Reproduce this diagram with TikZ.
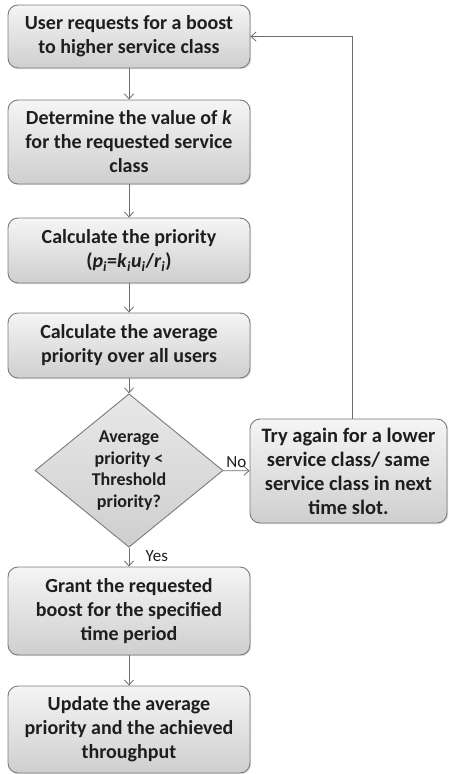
\documentclass[tikz,border=0pt]{standalone}
\usepackage{fontspec}
\setmainfont{Carlito}
\usetikzlibrary{shapes.geometric,arrows.meta,shadows}
\definecolor{edgegray}{HTML}{7A7A7A}
\definecolor{linegray}{HTML}{6E6E6E}
\definecolor{txt}{HTML}{1E1E1E}
\begin{document}
\begin{tikzpicture}[x=1pt,y=-1pt,
  procbox/.style={draw=edgegray, line width=0.9pt, rounded corners=10pt,
    top color=gray!8, bottom color=gray!38, align=center,
    font=\fontsize{20}{24}\selectfont\bfseries, text=txt, inner sep=2pt,
    drop shadow={shadow xshift=1.2pt, shadow yshift=-1.2pt, opacity=0.25}},
  decision/.style={diamond, draw=edgegray, line width=0.9pt,
    top color=gray!18, bottom color=gray!38, align=center, inner sep=0pt,
    font=\fontsize{18}{21.5}\selectfont\bfseries, text=txt},
  conn/.style={draw=linegray, line width=0.8pt, -{Straight Barb[length=5pt,width=9pt]}},
  lbl/.style={font=\fontsize{17}{20}\selectfont, text=txt}]
\useasboundingbox (0,0) rectangle (448,774);
\node[procbox, minimum width=242pt, minimum height=63pt] (b1) at (129,36.5)
  {User requests for a boost\\to higher service class};
\node[procbox, minimum width=242pt, minimum height=84pt] (b2) at (129,142)
  {Determine the value of \textit{k}\\for the requested service\\class};
\node[procbox, minimum width=242pt, minimum height=65pt] (b3) at (129,250.5)
  {Calculate the priority\\(\textit{p}\textsubscript{\textit{i}}=\textit{k}\textsubscript{\textit{i}}\textit{u}\textsubscript{\textit{i}}/\textit{r}\textsubscript{\textit{i}})};
\node[procbox, minimum width=242pt, minimum height=65pt] (b4) at (129,345.5)
  {Calculate the average\\priority over all users};
\node[decision, minimum width=188pt, minimum height=125pt] (d) at (129,470.5)
  {Average\\priority <\\Threshold\\priority?};
\node[procbox, minimum width=197pt, minimum height=104pt,
  font=\fontsize{20.5}{24}\selectfont\bfseries] (r) at (348.5,471)
  {Try again for a lower\\service class/ same\\service class in next\\time slot.};
\node[procbox, minimum width=242pt, minimum height=88pt] (b5) at (129,611)
  {Grant the requested\\boost for the specified\\time period};
\node[procbox, minimum width=242pt, minimum height=87pt] (b6) at (129,729.5)
  {Update the average\\priority and the achieved\\throughput};
\draw[conn] (b1) -- (b2);
\draw[conn] (b2) -- (b3);
\draw[conn] (b3) -- (b4);
\draw[conn] (b4) -- (d);
\draw[conn] (d) -- node[lbl, above, pos=0.5, yshift=-1pt] {No} (r);
\draw[conn] (d) -- node[lbl, right, pos=0.45, xshift=13pt] {Yes} (b5);
\draw[conn] (b5) -- (b6);
\draw[conn] ([xshift=3.5pt]r.north) |- (b1.east);
\end{tikzpicture}
\end{document}
